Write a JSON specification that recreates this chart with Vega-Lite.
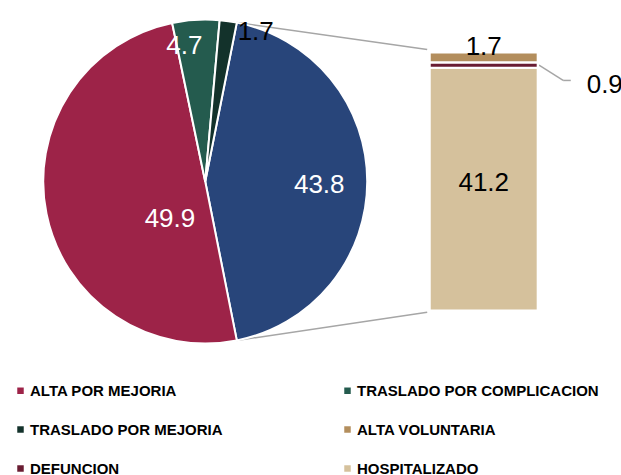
{
  "$schema": "https://vega.github.io/schema/vega-lite/v6.json",
  "width": 621,
  "height": 475,
  "padding": 0,
  "autosize": {"type": "none"},
  "background": "white",
  "config": {
    "view": {"stroke": null},
    "text": {"font": "Liberation Sans", "fontSize": 26}
  },
  "datasets": {
    "pie": [
      {"categoria": "OTROS", "valor": 43.8, "orden": 1},
      {"categoria": "ALTA POR MEJORIA", "valor": 49.9, "orden": 2},
      {"categoria": "TRASLADO POR COMPLICACION", "valor": 4.7, "orden": 3},
      {"categoria": "TRASLADO POR MEJORIA", "valor": 1.7, "orden": 4}
    ],
    "barra": [
      {"categoria": "HOSPITALIZADO", "valor": 41.2, "orden": 1},
      {"categoria": "DEFUNCION", "valor": 0.9, "orden": 2},
      {"categoria": "ALTA VOLUNTARIA", "valor": 1.7, "orden": 3}
    ],
    "uno": [{"conector": "a"}]
  },
  "layer": [
    {
      "data": {"name": "uno"},
      "mark": {"type": "rule", "color": "#A6A6A6", "strokeWidth": 1.5},
      "encoding": {
        "x": {"datum": 37.86, "type": "quantitative", "scale": {"domain": [0, 100], "nice": false, "zero": false}, "axis": null},
        "y": {"datum": 48.88, "type": "quantitative", "scale": {"domain": [-27.9, 52.7], "nice": false, "zero": false}, "axis": null},
        "x2": {"datum": 69.1},
        "y2": {"datum": 44.3}
      }
    },
    {
      "data": {"name": "uno"},
      "mark": {"type": "rule", "color": "#A6A6A6", "strokeWidth": 1.5},
      "encoding": {
        "x": {"datum": 37.86, "type": "quantitative"},
        "y": {"datum": -5.08, "type": "quantitative"},
        "x2": {"datum": 69.1},
        "y2": {"datum": -0.3}
      }
    },
    {
      "data": {"name": "uno"},
      "mark": {"type": "rule", "color": "#A6A6A6", "strokeWidth": 1.5},
      "encoding": {
        "x": {"datum": 87.4, "type": "quantitative"},
        "y": {"datum": 41.65, "type": "quantitative"},
        "x2": {"datum": 91.35},
        "y2": {"datum": 39.05}
      }
    },
    {
      "data": {"name": "uno"},
      "mark": {"type": "rule", "color": "#A6A6A6", "strokeWidth": 1.5},
      "encoding": {
        "x": {"datum": 91.35, "type": "quantitative"},
        "y": {"datum": 39.05, "type": "quantitative"},
        "x2": {"datum": 92.6},
        "y2": {"datum": 39.05}
      }
    },
    {
      "data": {"name": "pie"},
      "mark": {"type": "arc", "outerRadius": 162, "stroke": "white", "strokeWidth": 2},
      "encoding": {
        "x": {"datum": 32.77, "type": "quantitative"},
        "y": {"datum": 21.9, "type": "quantitative"},
        "theta": {"field": "valor", "type": "quantitative", "stack": true, "scale": {"range": [0.1962, 6.4794]}},
        "order": {"field": "orden", "type": "quantitative"},
        "color": {
          "field": "categoria",
          "type": "nominal",
          "scale": {
            "domain": ["ALTA POR MEJORIA", "TRASLADO POR MEJORIA", "DEFUNCION", "TRASLADO POR COMPLICACION", "ALTA VOLUNTARIA", "HOSPITALIZADO", "OTROS"],
            "range": ["#9D2348", "#13322B", "#691C32", "#245B4E", "#B38E5D", "#D5C19C", "#28457A"]
          },
          "legend": {
            "values": ["ALTA POR MEJORIA", "TRASLADO POR MEJORIA", "DEFUNCION", "TRASLADO POR COMPLICACION", "ALTA VOLUNTARIA", "HOSPITALIZADO"],
            "title": null,
            "orient": "none",
            "legendX": 13,
            "legendY": 383,
            "columns": 2,
            "columnPadding": 117,
            "rowPadding": 23,
            "padding": 0,
            "symbolType": "square",
            "symbolSize": 42,
            "symbolStrokeWidth": 0,
            "labelFont": "Liberation Sans",
            "labelFontWeight": "bold",
            "labelFontSize": 15,
            "labelColor": "black",
            "labelOffset": 2,
            "labelLimit": 400
          }
        }
      }
    },
    {
      "data": {"name": "pie"},
      "mark": {"type": "text", "radius": 114, "color": "white", "dy": 3},
      "encoding": {
        "x": {"datum": 32.77, "type": "quantitative"},
        "y": {"datum": 21.9, "type": "quantitative"},
        "theta": {"field": "valor", "type": "quantitative", "stack": true},
        "order": {"field": "orden", "type": "quantitative"},
        "text": {"condition": {"test": "datum.categoria === 'OTROS'", "field": "valor", "type": "quantitative", "format": ".1f"}, "value": ""}
      }
    },
    {
      "data": {"name": "pie"},
      "mark": {"type": "text", "radius": 36, "color": "white", "dy": 30},
      "encoding": {
        "x": {"datum": 32.77, "type": "quantitative"},
        "y": {"datum": 21.9, "type": "quantitative"},
        "theta": {"field": "valor", "type": "quantitative", "stack": true},
        "order": {"field": "orden", "type": "quantitative"},
        "text": {"condition": {"test": "datum.categoria === 'ALTA POR MEJORIA'", "field": "valor", "type": "quantitative", "format": ".1f"}, "value": ""}
      }
    },
    {
      "data": {"name": "pie"},
      "mark": {"type": "text", "radius": 136, "color": "white", "dx": -13},
      "encoding": {
        "x": {"datum": 32.77, "type": "quantitative"},
        "y": {"datum": 21.9, "type": "quantitative"},
        "theta": {"field": "valor", "type": "quantitative", "stack": true},
        "order": {"field": "orden", "type": "quantitative"},
        "text": {"condition": {"test": "datum.categoria === 'TRASLADO POR COMPLICACION'", "field": "valor", "type": "quantitative", "format": ".1f"}, "value": ""}
      }
    },
    {
      "data": {"name": "pie"},
      "mark": {"type": "text", "radius": 158, "color": "black", "dx": 28, "dy": 7},
      "encoding": {
        "x": {"datum": 32.77, "type": "quantitative"},
        "y": {"datum": 21.9, "type": "quantitative"},
        "theta": {"field": "valor", "type": "quantitative", "stack": true},
        "order": {"field": "orden", "type": "quantitative"},
        "text": {"condition": {"test": "datum.categoria === 'TRASLADO POR MEJORIA'", "field": "valor", "type": "quantitative", "format": ".1f"}, "value": ""}
      }
    },
    {
      "data": {"name": "barra"},
      "transform": [
        {"stack": "valor", "groupby": [], "sort": [{"field": "orden", "order": "ascending"}], "as": ["inicio", "fin"]}
      ],
      "mark": {"type": "bar", "orient": "vertical", "stroke": "white", "strokeWidth": 2.2},
      "encoding": {
        "x": {"datum": 69.5, "type": "quantitative"},
        "x2": {"datum": 87.2},
        "y": {"field": "inicio", "type": "quantitative"},
        "y2": {"field": "fin"},
        "color": {"field": "categoria", "type": "nominal"}
      }
    },
    {
      "data": {"name": "barra"},
      "mark": {"type": "text", "color": "black", "align": "center", "baseline": "middle", "dy": 115},
      "encoding": {
        "x": {"datum": 78.35, "type": "quantitative"},
        "y": {"field": "valor", "type": "quantitative", "stack": "zero"},
        "order": {"field": "orden", "type": "quantitative"},
        "text": {"condition": {"test": "datum.categoria === 'HOSPITALIZADO'", "field": "valor", "type": "quantitative", "format": ".1f"}, "value": ""}
      }
    },
    {
      "data": {"name": "barra"},
      "mark": {"type": "text", "color": "black", "align": "center", "baseline": "middle", "dy": -5},
      "encoding": {
        "x": {"datum": 78.35, "type": "quantitative"},
        "y": {"field": "valor", "type": "quantitative", "stack": "zero"},
        "order": {"field": "orden", "type": "quantitative"},
        "text": {"condition": {"test": "datum.categoria === 'ALTA VOLUNTARIA'", "field": "valor", "type": "quantitative", "format": ".1f"}, "value": ""}
      }
    },
    {
      "data": {"name": "barra"},
      "mark": {"type": "text", "color": "black", "align": "left", "baseline": "middle", "dy": 23},
      "encoding": {
        "x": {"datum": 95.2, "type": "quantitative"},
        "y": {"field": "valor", "type": "quantitative", "stack": "zero"},
        "order": {"field": "orden", "type": "quantitative"},
        "text": {"condition": {"test": "datum.categoria === 'DEFUNCION'", "field": "valor", "type": "quantitative", "format": ".1f"}, "value": ""}
      }
    }
  ]
}
